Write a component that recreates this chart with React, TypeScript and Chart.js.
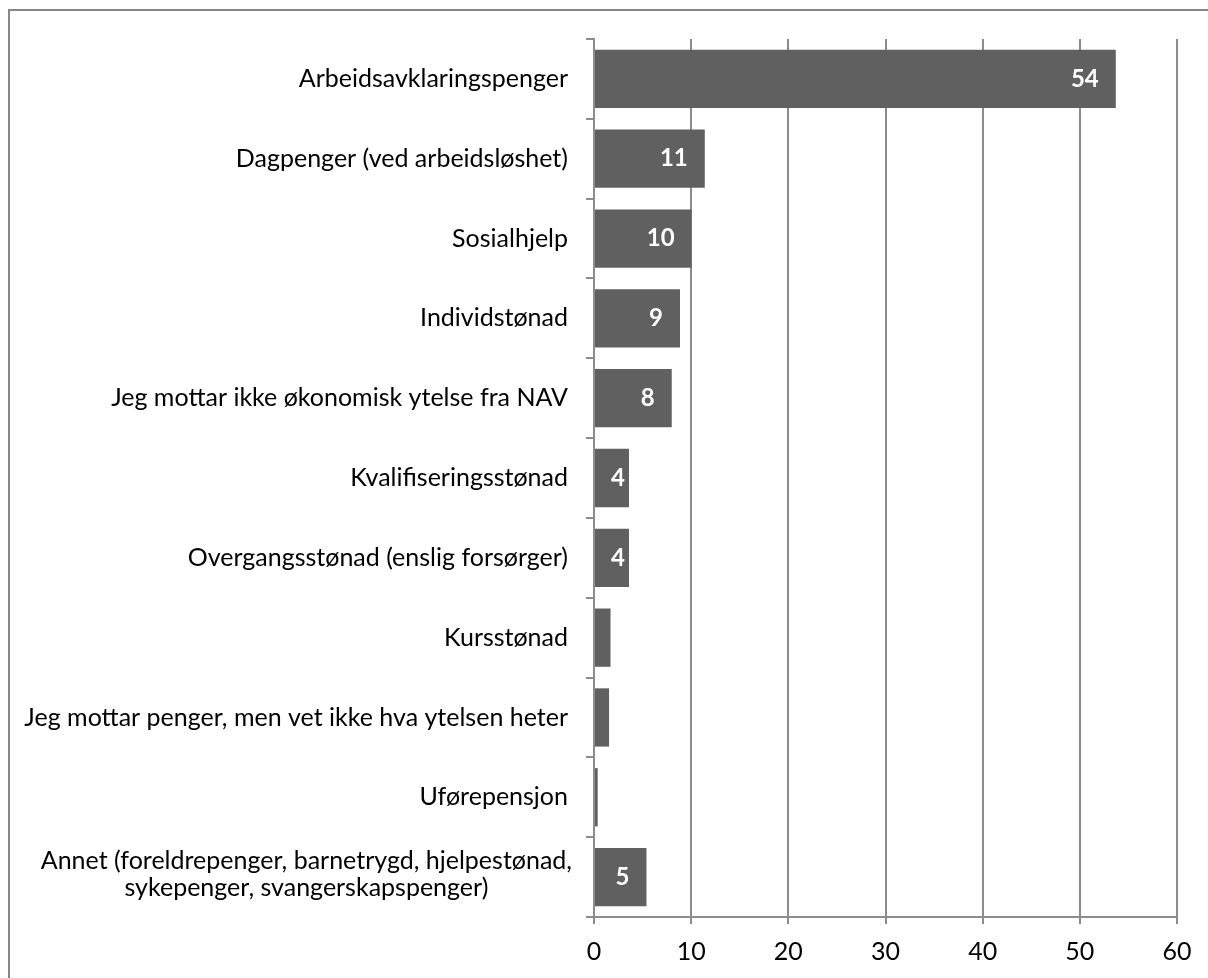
import React, { useEffect, useRef } from "react";
import { Chart, registerables } from "chart.js";

Chart.register(...registerables);

const categories: string[][] = [
  ["Arbeidsavklaringspenger"],
  ["Dagpenger (ved arbeidsløshet)"],
  ["Sosialhjelp"],
  ["Individstønad"],
  ["Jeg mottar ikke økonomisk ytelse fra NAV"],
  ["Kvalifiseringsstønad"],
  ["Overgangsstønad (enslig forsørger)"],
  ["Kursstønad"],
  ["Jeg mottar penger, men vet ikke hva ytelsen heter"],
  ["Uførepensjon"],
  ["Annet (foreldrepenger, barnetrygd, hjelpestønad,", "sykepenger, svangerskapspenger)"],
];

const values: number[] = [53.7, 11.4, 10.05, 8.85, 8.0, 3.6, 3.6, 1.7, 1.55, 0.38, 5.4];

const dataLabels: string[] = ["54", "11", "10", "9", "8", "4", "4", "", "", "", "5"];

const xTicks: number[] = [0, 10, 20, 30, 40, 50, 60];

const FONT = "Lato, 'Open Sans', sans-serif";
const GRID = "#8c8c8c";
const BAR = "#606060";

const labelPlugin = {
  id: "customLabels",
  afterDraw(chart: any) {
    const ctx = chart.ctx;
    const yScale = chart.scales.y;
    const xScale = chart.scales.x;
    ctx.save();
    // category labels
    ctx.font = `25px ${FONT}`;
    ctx.fillStyle = "#000";
    ctx.textBaseline = "middle";
    const rightEdge = yScale.right - 26;
    const lh = 27;
    categories.forEach((lines, i) => {
      const y = yScale.getPixelForValue(i);
      if (lines.length === 1) {
        ctx.textAlign = "right";
        ctx.fillText(lines[0], rightEdge, y);
      } else {
        const widest = Math.max(...lines.map((l) => ctx.measureText(l).width));
        const cx = rightEdge + 4 - widest / 2;
        ctx.textAlign = "center";
        const startY = y - ((lines.length - 1) * lh) / 2 - 3;
        lines.forEach((l, j) => ctx.fillText(l, cx, startY + j * lh));
      }
    });
    // data labels
    ctx.font = `bold 24px ${FONT}`;
    ctx.fillStyle = "#ffffff";
    ctx.textAlign = "right";
    const meta = chart.getDatasetMeta(0);
    const base = xScale.getPixelForValue(0);
    meta.data.forEach((bar: any, i: number) => {
      const txt = dataLabels[i];
      if (!txt) return;
      const w = ctx.measureText(txt).width;
      const xr = Math.max(bar.x - 17, base + 17 + w);
      ctx.fillText(txt, xr, bar.y);
    });
    ctx.restore();
  },
};

export default function App() {
  const ref = useRef<HTMLCanvasElement | null>(null);

  useEffect(() => {
    if (!ref.current) return;
    const chart = new Chart(ref.current, {
      type: "bar",
      data: {
        labels: categories.map((c) => c.join(" ")),
        datasets: [
          {
            data: values,
            backgroundColor: BAR,
            borderWidth: 0,
            barPercentage: 0.73,
            categoryPercentage: 1,
          },
        ],
      },
      options: {
        indexAxis: "y",
        responsive: false,
        animation: false,
        layout: { padding: { top: 39, right: 31, left: 0, bottom: 0 } },
        plugins: {
          legend: { display: false },
          tooltip: { enabled: false },
        },
        scales: {
          x: {
            min: 0,
            max: 60,
            afterBuildTicks: (scale: any) => {
              scale.ticks = xTicks.map((v) => ({ value: v }));
            },
            afterFit: (scale: any) => {
              scale.height = 61;
            },
            grid: {
              color: GRID,
              lineWidth: 2,
              tickLength: 7,
              drawTicks: true,
            },
            border: { display: true, color: GRID, width: 2 },
            ticks: {
              color: "#000",
              padding: 13,
              font: { family: FONT, size: 25 },
            },
          },
          y: {
            afterFit: (scale: any) => {
              scale.width = 594;
            },
            grid: {
              offset: true,
              drawOnChartArea: false,
              drawTicks: true,
              tickLength: 8,
              color: GRID,
              lineWidth: 2,
            },
            border: { display: true, color: GRID, width: 2 },
            ticks: { display: false },
          },
        },
      },
      plugins: [labelPlugin],
    });
    return () => chart.destroy();
  }, []);

  return (
    <div>
      <div
        style={{
          position: "absolute",
          left: 8,
          top: 9,
          width: 1200,
          height: 969,
          boxSizing: "border-box",
          borderTop: "2px solid #878787",
          borderLeft: "2px solid #878787",
        }}
      />
      <canvas
        ref={ref}
        width={1208}
        height={978}
        style={{ position: "absolute", left: 0, top: 0, display: "block" }}
      />
    </div>
  );
}
